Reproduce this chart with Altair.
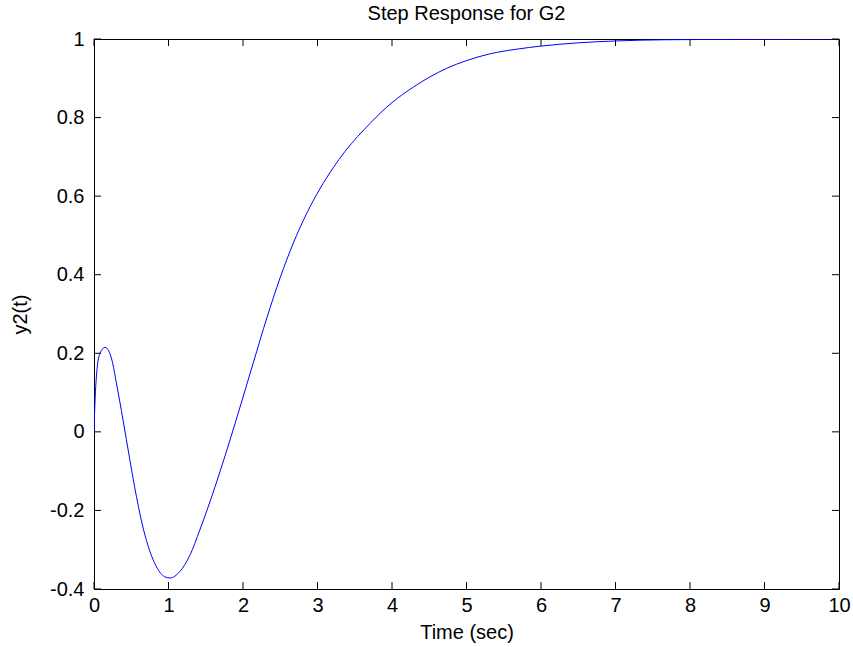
import altair as alt
import pandas as pd

# Step response samples of G2
time_s = [0, 0.01, 0.036, 0.08, 0.15, 0.24, 0.30, 0.39, 0.48, 0.57, 0.66, 0.75,
          0.84, 0.95, 1.02, 1.15, 1.29, 1.42, 1.56, 1.69, 1.83, 1.96, 2.05, 2.14,
          2.32, 2.50, 2.67, 2.86, 3.03, 3.21, 3.37, 3.71, 3.84, 4.0, 4.29, 4.73,
          5.0, 5.31, 5.67, 6.0, 6.48, 7.0, 7.64, 8.5, 10]
y2 = [0, 0.06, 0.15, 0.20, 0.215, 0.183, 0.125, 0.03, -0.07, -0.165, -0.245,
      -0.304, -0.344, -0.369, -0.372, -0.356, -0.313, -0.25, -0.176, -0.102,
      -0.018, 0.063, 0.12, 0.177, 0.29, 0.393, 0.478, 0.558, 0.618, 0.672,
      0.714, 0.786, 0.811, 0.838, 0.878, 0.925, 0.945, 0.962, 0.974, 0.982,
      0.99, 0.995, 0.998, 0.999, 1.0]

x_ticks = [0, 1, 2, 3, 4, 5, 6, 7, 8, 9, 10]
y_ticks = [-0.4, -0.2, 0, 0.2, 0.4, 0.6, 0.8, 1]

W, H = 745, 550
TICK = 7
FONT = "Liberation Sans"

df = pd.DataFrame({"t": time_s, "y": y2})
xt = pd.DataFrame({"t": x_ticks})
yt = pd.DataFrame({"y": y_ticks})

xscale = alt.Scale(domain=[0, 10], nice=False, zero=False)
yscale = alt.Scale(domain=[-0.4, 1], nice=False, zero=False)

x_axis = alt.Axis(values=x_ticks, title="Time (sec)", tickSize=0,
                  labelPadding=6, titlePadding=7, domain=False, labelFlush=False,
                  grid=False, labelExpr="'' + datum.value")
y_axis = alt.Axis(values=y_ticks, title="y2(t)", tickSize=0,
                  labelPadding=10, titlePadding=19, domain=False, labelFlush=False,
                  grid=False, labelExpr="'' + datum.value")

X = alt.X("t:Q", scale=xscale, axis=x_axis, title="Time (sec)")
Y = alt.Y("y:Q", scale=yscale, axis=y_axis, title="y2(t)")

line = alt.Chart(df).mark_line(color="#0000FF", strokeWidth=1,
                               interpolate="monotone", clip=True).encode(x=X, y=Y)

# inward tick marks on all four sides of the box
tick_style = dict(color="black", strokeWidth=1)
xb = alt.Chart(xt).mark_rule(**tick_style).encode(
    x=X, y=alt.value(H), y2=alt.value(H - TICK))
xtop = alt.Chart(xt).mark_rule(**tick_style).encode(
    x=X, y=alt.value(0), y2=alt.value(TICK))
yl = alt.Chart(yt).mark_rule(**tick_style).encode(
    y=Y, x=alt.value(0), x2=alt.value(TICK))
yr = alt.Chart(yt).mark_rule(**tick_style).encode(
    y=Y, x=alt.value(W), x2=alt.value(W - TICK))

chart = alt.layer(line, xb, xtop, yl, yr).properties(
    width=W, height=H,
    background="white",
    title=alt.TitleParams("Step Response for G2", fontSize=20, fontWeight="normal",
                          font=FONT, color="black", offset=5, anchor="middle"),
    autosize=alt.AutoSizeParams(type="none"),
    padding={"left": 94, "top": 39, "right": 14, "bottom": 58},
).configure_view(
    stroke="black", strokeWidth=1
).configure_axis(
    labelFont=FONT, labelFontSize=20, labelColor="black",
    titleFont=FONT, titleFontSize=20, titleFontWeight="normal", titleColor="black",
)

chart.save("out.html", embed_options={"renderer": "svg", "actions": False})
